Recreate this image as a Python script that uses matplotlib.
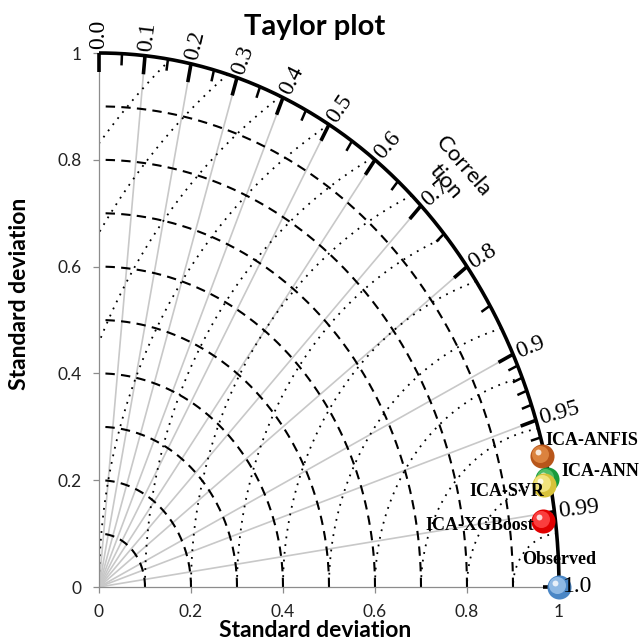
import numpy as np
import matplotlib.pyplot as plt
from matplotlib.transforms import offset_copy

# model statistics
models = ['Observed', 'ICA-ANFIS', 'ICA-ANN', 'ICA-SVR', 'ICA-XGBoost']
std_dev = [1.0, 0.994, 0.995, 0.986, 0.973]
corr = [1.0, 0.969, 0.979, 0.981, 0.992]

# correlation axis
corr_major = [0.0, 0.1, 0.2, 0.3, 0.4, 0.5, 0.6, 0.7, 0.8, 0.9, 0.95, 0.99, 1.0]
corr_labels = ['0.0', '0.1', '0.2', '0.3', '0.4', '0.5', '0.6', '0.7', '0.8',
               '0.9', '0.95', '0.99', '1.0']
corr_minor = [0.05, 0.15, 0.25, 0.35, 0.45, 0.55, 0.65, 0.75, 0.85,
              0.91, 0.92, 0.93, 0.94, 0.96, 0.97, 0.98]
corr_rays = [0.1, 0.2, 0.3, 0.4, 0.5, 0.6, 0.7, 0.8, 0.9, 0.95, 0.99]

std_arcs = [0.1, 0.2, 0.3, 0.4, 0.5, 0.6, 0.7, 0.8, 0.9]
rms_arcs = [0.1, 0.2, 0.3, 0.4, 0.5, 0.6, 0.7, 0.8, 0.9, 1.0, 1.1, 1.2, 1.3]

std_ticks = [0, 0.2, 0.4, 0.6, 0.8, 1.0]
std_tick_labels = ['0', '0.2', '0.4', '0.6', '0.8', '1']

# marker look: (base colour, inner colour), label offset in pixels, alignment
styles = {
    'Observed':    ('#4a86c5', '#9cc3ea', (0, 27), 'center'),
    'ICA-ANFIS':   ('#b8561a', '#e28a45', (3, 15), 'left'),
    'ICA-ANN':     ('#179a3c', '#5cc46e', (14, 7), 'left'),
    'ICA-SVR':     ('#d8c23a', '#f6ea8a', (0, -7), 'right'),
    'ICA-XGBoost': ('#e00000', '#ff4a4a', (-9, -4), 'right'),
}

sans = 'Lato'
serif = 'Liberation Serif'

fig = plt.figure(figsize=(6.43, 6.43), dpi=100)
ax = fig.add_axes([99 / 643, 56 / 643, 460 / 643, 534 / 643])
ax.set_xlim(0, 1)
ax.set_ylim(0, 1)

for s in ['top', 'right']:
    ax.spines[s].set_visible(False)
for s in ['left', 'bottom']:
    ax.spines[s].set_color('#8c8c8c')
    ax.spines[s].set_linewidth(0.9)

ax.set_xticks(std_ticks)
ax.set_xticklabels(std_tick_labels)
ax.set_yticks(std_ticks)
ax.set_yticklabels(std_tick_labels)
ax.tick_params(direction='out', length=4.5, width=0.9, color='#8c8c8c',
               pad=8, labelsize=12.5, labelcolor='#222222')
for lab in ax.get_xticklabels() + ax.get_yticklabels():
    lab.set_family(sans)

# radial correlation rays
for c in corr_rays:
    t = np.arccos(c)
    ax.plot([0, np.cos(t)], [0, np.sin(t)], color='#c8c8c8', lw=1.2, zorder=1)

# standard deviation arcs
th = np.linspace(0, np.pi / 2, 300)
for r in std_arcs:
    ax.plot(r * np.cos(th), r * np.sin(th), color='black', lw=1.5,
            ls=(0, (4.5, 3)), zorder=2)

# centred RMS difference arcs around the observed point
for r in rms_arcs:
    p0 = np.arccos(-r / 2)
    p1 = np.pi if r <= 1 else np.arccos(-1 / r)
    ph = np.linspace(p0, p1, 300)
    ax.plot(1 + r * np.cos(ph), r * np.sin(ph), color='black', lw=1.3,
            ls=(0, (1, 3.3)), zorder=2)

# outer correlation arc
ax.plot(np.cos(th), np.sin(th), color='black', lw=2.6, zorder=3,
        clip_on=False, solid_capstyle='butt')

# ticks on the outer arc
for c in corr_major:
    t = np.arccos(c)
    ax.plot([np.cos(t), 0.965 * np.cos(t)], [np.sin(t), 0.965 * np.sin(t)],
            color='black', lw=2.6, zorder=3, clip_on=False, solid_capstyle='butt')
for c in corr_minor:
    t = np.arccos(c)
    ax.plot([np.cos(t), 0.978 * np.cos(t)], [np.sin(t), 0.978 * np.sin(t)],
            color='black', lw=1.8, zorder=3, clip_on=False, solid_capstyle='butt')

# correlation labels, rotated along the screen normal of the arc
a_px, b_px = 460.0, 534.0
for c, lab in zip(corr_major, corr_labels):
    t = np.arccos(c)
    nx, ny = np.cos(t) / a_px, np.sin(t) / b_px
    n = np.hypot(nx, ny)
    nx, ny = nx / n, ny / n
    ang = np.degrees(np.arctan2(ny, nx))
    ax.annotate(lab, xy=(np.cos(t), np.sin(t)), xytext=(4 * nx, 4 * ny),
                textcoords='offset pixels', rotation=ang, rotation_mode='anchor',
                ha='left', va='center', fontsize=17, family=serif,
                annotation_clip=False, zorder=6)

ax.text(0.772, 0.773, 'Correla\ntion', rotation=-49, ha='center', va='center',
        multialignment='center', fontsize=16, family=sans, linespacing=1.2,
        rotation_mode='anchor', zorder=6)

# model points drawn as shaded balls
for name, s, c in zip(models, std_dev, corr):
    base, inner, off, ha = styles[name]
    x, y = s * c, s * np.sqrt(1 - c ** 2)
    ax.scatter([x], [y], s=300, color=base, zorder=5, clip_on=False, lw=0)
    hl = offset_copy(ax.transData, fig=fig, x=-2, y=2, units='dots')
    ax.scatter([x], [y], s=150, color=inner, zorder=5, clip_on=False, lw=0,
               transform=hl, alpha=0.85)
    hl2 = offset_copy(ax.transData, fig=fig, x=-4, y=4, units='dots')
    ax.scatter([x], [y], s=18, color='white', zorder=5, clip_on=False, lw=0,
               transform=hl2, alpha=0.8)
    ax.annotate(name, xy=(x, y), xytext=off, textcoords='offset pixels',
                ha=ha, va='center', fontsize=13, family=serif,
                fontweight='bold', annotation_clip=False, zorder=6)

fig.text(315 / 643, 1 - 35 / 643, 'Taylor plot', ha='center', va='baseline',
         fontsize=21, fontweight='bold', family=sans)
fig.text(315 / 643, 6 / 643, 'Standard deviation', ha='center', va='baseline',
         fontsize=16.5, fontweight='bold', family=sans)
fig.text(20 / 643, 1 - 390 / 643, 'Standard deviation', ha='center',
         va='bottom', rotation=90, fontsize=16.5, fontweight='bold', family=sans)

fig.savefig('out.png', dpi=100)
